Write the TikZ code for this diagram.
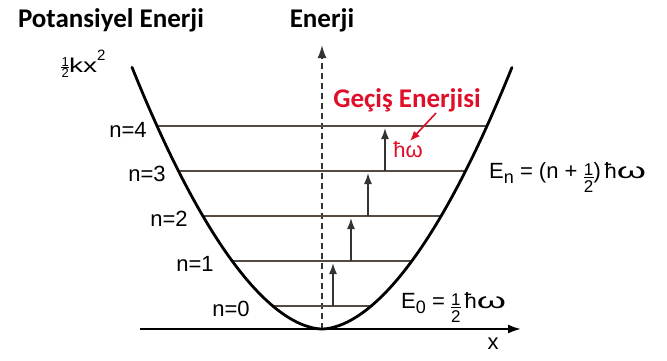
\documentclass[tikz,border=0pt]{standalone}
\usepackage{fontspec}
\usepackage{graphicx}
\setmainfont{Liberation Sans}
\newfontfamily\carl{Carlito}
\usetikzlibrary{arrows.meta}
\definecolor{lvl}{rgb}{0.33,0.29,0.26}
\definecolor{gred}{rgb}{0.88,0.06,0.16}
% half fraction built by hand: #1 size, #2 gap, #3 lowering, #4 width
\newcommand{\mkfr}[4]{\raisebox{-#3}{\fontsize{#1}{#1}\selectfont\vbox{\hbox to #4{\hss 1\hss}\kern#2\hrule width #4 height 0.6pt\kern#2\hbox to #4{\hss 2\hss}}}}
\newcommand{\hfr}{\mkfr{17pt}{2.2pt}{14pt}{10pt}}
\newcommand{\sbs}[1]{\raisebox{-0.45ex}{\fontsize{18}{18}\selectfont #1}}
\newcommand{\wom}{\scalebox{1.7}[1]{ω}}
\begin{document}
\begin{tikzpicture}[x=1pt,y=-1pt,
  bigtitle/.style={font=\carl\bfseries\fontsize{27}{30}\selectfont, inner sep=0pt},
  lab/.style={font=\fontsize{22}{24}\selectfont, inner sep=0pt},
  level/.style={draw=lvl, line width=1.8pt},
  jump/.style={draw=black!80, line width=1.6pt, -{Latex[length=11pt,width=8pt]}},
  axis/.style={draw=black, line width=2pt}]
\useasboundingbox (0,0) rectangle (667,360);
% titles
\node[bigtitle] (pe) at (111,20) {Potansiyel Enerji};
\node[bigtitle] (en) at (322,20) {Enerji};
\node[lab, anchor=base west] (kx) at (61,72) {\mkfr{13pt}{0.6pt}{5pt}{8pt}\fontsize{20}{22}\selectfont\scalebox{1.4}[1]{kx}\raisebox{1.1ex}{\fontsize{15}{16}\selectfont 2}};
% axes
\coordinate (xs) at (140,329);
\coordinate (xe) at (521,329);
\coordinate (ys) at (322,329);
\coordinate (ye) at (322,45);
\draw[axis, -{Latex[length=13pt,width=9pt]}] (xs) -- (xe);
\draw[draw=black!80, line width=1.8pt, dash pattern=on 6pt off 4pt, -{Latex[length=13pt,width=9pt]}] (ys) -- (ye);
\node[lab] (xl) at (493,344) {x};
% level endpoints (on the curve)
\coordinate (l0) at (273,306); \coordinate (r0) at (371,306);
\coordinate (l1) at (232,261); \coordinate (r1) at (412,261);
\coordinate (l2) at (203,216); \coordinate (r2) at (441,216);
\coordinate (l3) at (178,171); \coordinate (r3) at (466,171);
\coordinate (l4) at (157,126); \coordinate (r4) at (487,126);
\foreach \i in {0,...,4} {\draw[level] (l\i) -- (r\i);}
% potential curve
\draw[line width=2.8pt, line cap=round] plot[domain=-1.9:1.9, samples=100] ({322+100*\x}, {329-82.45*pow(abs(\x),1.8)});
% level labels
\node[lab] (n4) at (128,130) {n=4};
\node[lab] (n3) at (147,174) {n=3};
\node[lab] (n2) at (169,219) {n=2};
\node[lab] (n1) at (195,264) {n=1};
\node[lab] (n0) at (231,309) {n=0};
% transition arrows
\coordinate (a0s) at (333,306); \coordinate (a0e) at (333,263);
\coordinate (a1s) at (351,261); \coordinate (a1e) at (351,218);
\coordinate (a2s) at (368,216); \coordinate (a2e) at (368,173);
\coordinate (a3s) at (385,171); \coordinate (a3e) at (385,128);
\foreach \i in {0,...,3} {\draw[jump] (a\i s) -- (a\i e);}
% red annotation
\node[bigtitle, text=gred] (ge) at (407,100) {Geçiş Enerjisi};
\node[lab, text=gred] (hw) at (408,150) {ħω};
\coordinate (ra) at (436,113);
\coordinate (rt) at (410,141);
\draw[draw=gred, line width=1.6pt, -{Latex[length=10pt,width=8pt]}] (ra) -- (rt);
% formulas
\node[lab, anchor=base west] (fn) at (489,178) {E\sbs{n} = (n + \hfr)\,ħ\wom};
\node[lab, anchor=base west] (f0) at (401,308) {E\sbs{0} = \hfr\,ħ\wom};
\end{tikzpicture}
\end{document}
